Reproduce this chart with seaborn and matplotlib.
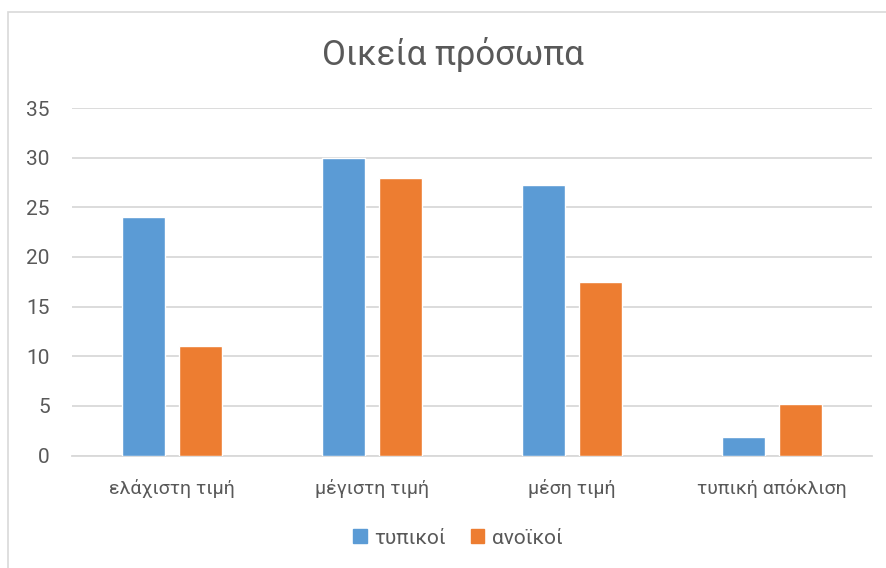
import matplotlib
matplotlib.use("Agg")
import matplotlib.pyplot as plt
import matplotlib.patches as mpatches
import seaborn as sns
import pandas as pd

categories = ["ελάχιστη τιμή", "μέγιστη τιμή", "μέση τιμή", "τυπική απόκλιση"]
series_names = ["τυπικοί", "ανοϊκοί"]
typical_values = [24, 30, 27.2, 1.9]
dementia_values = [11, 28, 17.5, 5.2]
y_ticks = [0, 5, 10, 15, 20, 25, 30, 35]
title = "Οικεία πρόσωπα"

colors = ["#5B9BD5", "#ED7D31"]
text_color = "#595959"

df = pd.DataFrame({
    "category": categories * 2,
    "group": [series_names[0]] * 4 + [series_names[1]] * 4,
    "value": typical_values + dementia_values,
})

sns.set_theme(style="white")
plt.rcParams["font.family"] = ["Roboto", "DejaVu Sans"]

fig = plt.figure(figsize=(8.87, 5.68), dpi=100)
ax = fig.add_axes([72 / 887, 1 - 455.5 / 568, 800 / 887, 347.5 / 568])

sns.barplot(data=df, x="category", y="value", hue="group", order=categories,
            hue_order=series_names, palette=colors, width=0.57, gap=0.23,
            saturation=1, ax=ax, legend=False, zorder=3)

ax.set_ylim(0, 35)
ax.set_xlim(-0.5, len(categories) - 0.5)
ax.set_yticks(y_ticks)
ax.yaxis.grid(True, color="#D9D9D9", linewidth=1.3, zorder=0)
ax.set_axisbelow(True)
for side in ["top", "right", "left"]:
    ax.spines[side].set_visible(False)
ax.spines["bottom"].set_color("#D9D9D9")
ax.spines["bottom"].set_linewidth(1.3)
ax.tick_params(axis="both", length=0, colors=text_color)
ax.tick_params(axis="x", pad=17, labelsize=14)
ax.tick_params(axis="y", pad=16, labelsize=15)
ax.set_xlabel("")
ax.set_ylabel("")

fig.text(453 / 887, 1 - 55 / 568, title, ha="center", va="center",
         fontsize=25, color=text_color)

handles = [mpatches.Patch(color=c, label=n) for c, n in zip(colors, series_names)]
fig.legend(handles=handles, loc="center", bbox_to_anchor=(458 / 887, 1 - 538 / 568),
           ncol=2, frameon=False, fontsize=15, labelcolor=text_color,
           handlelength=0.65, handleheight=0.65, handletextpad=0.35, columnspacing=1.2)

# chart area border
fig.patches.append(mpatches.Rectangle((8 / 887, -0.05), 1.0, 1 - 12 / 568 + 0.05,
                                      transform=fig.transFigure, fill=False,
                                      edgecolor="#D9D9D9", linewidth=1.2))

fig.savefig("out.png", dpi=100)
